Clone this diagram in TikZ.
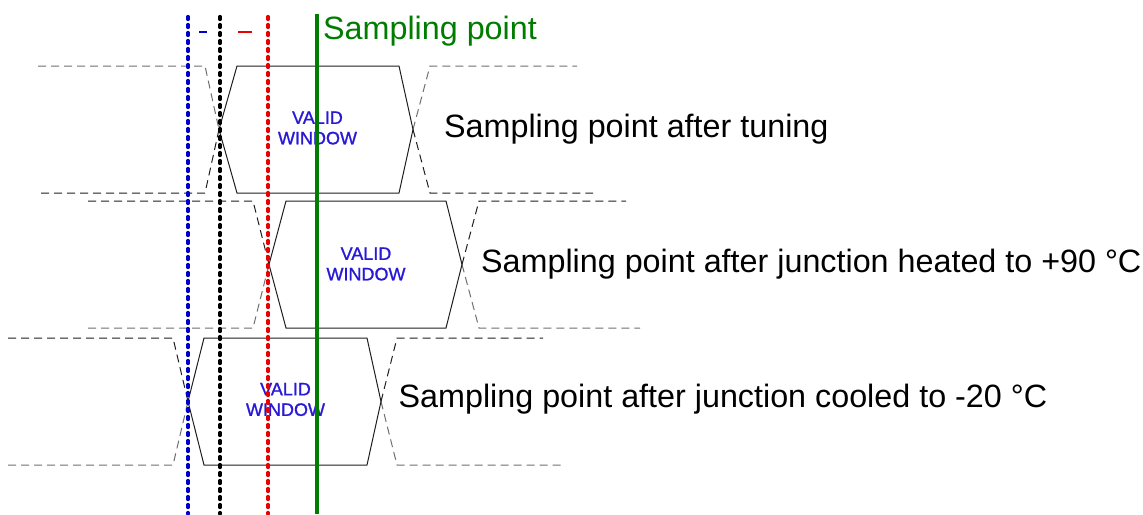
\documentclass[tikz,border=0pt]{standalone}
\usepackage{fontspec}
\setmainfont{Liberation Sans}
\newfontfamily\winfont[FakeBold=1.2]{Liberation Sans}
\definecolor{vblue}{RGB}{40,25,215}
\definecolor{sgreen}{RGB}{0,125,0}
\definecolor{dblue}{RGB}{0,0,205}
\definecolor{dred}{RGB}{235,0,0}
\definecolor{dark}{RGB}{30,30,30}
\definecolor{light}{RGB}{110,110,110}
\begin{document}
\begin{tikzpicture}[x=1pt,y=-1pt,
  wave/.style={line width=1pt,draw=dark,line join=miter},
  dashwave/.style={line width=1pt,dash pattern=on 8pt off 5pt},
  dotline/.style={line width=3.2pt,dash pattern=on 3pt off 5pt,line cap=round},
  lbl/.style={anchor=base west,inner sep=0pt,font=\fontsize{32.3}{38}\selectfont},
  win/.style={inner sep=0pt,align=center,text=vblue,font=\winfont\fontsize{18}{20.5}\selectfont}]
\useasboundingbox (0,0) rectangle (1143,514);
% eye rows: T/B/dL0top/dL0bot/dL1/Xl/sL/sR/Xr/dR1/topEnd/botEnd/topcol/botcol
\foreach \T/\B/\la/\lb/\lc/\xl/\sl/\sr/\xr/\rc/\te/\be/\tc/\bc in {
  66/193/38/41/205/219/237/399/413/430/577/593/light/dark,
  201/328/88/88/253/269/286/446/462/479/626/640/dark/light,
  338/465/8/8/173/188/204/367/381/397/543/561/dark/light}{
  \pgfmathsetmacro{\M}{(\T+\B)/2}
  \draw[dashwave,draw=\tc] (\la,\T) -- (\lc,\T) -- (\xl,\M);
  \draw[dashwave,draw=\bc] (\lb,\B) -- (\lc,\B) -- (\xl,\M);
  \draw[dashwave,draw=\tc] (\xr,\M) -- (\rc,\T) -- (\te,\T);
  \draw[dashwave,draw=\bc] (\xr,\M) -- (\rc,\B) -- (\be,\B);
  \draw[wave] (\sl,\T) -- (\sr,\T) -- (\xr,\M) -- (\sr,\B) -- (\sl,\B) -- (\xl,\M) -- cycle;
}
% valid window labels
\node[win] (w1) at (317.5,128) {VALID\\WINDOW};
\node[win] (w2) at (366,264) {VALID\\WINDOW};
\node[win] (w3) at (285.5,399.5) {VALID\\WINDOW};
% row labels
\node[lbl] (t1) at (444,137.3) {Sampling point after tuning};
\node[lbl] (t2) at (481,272.3) {Sampling point after junction heated to +90 °C};
\node[lbl] (t3) at (398.5,407.3) {Sampling point after junction cooled to -20 °C};
\node[lbl,text=sgreen] (sp) at (323,39.3) {Sampling point};
% vertical reference lines
\draw[dotline,dblue] (188,16.5) -- (188,514);
\draw[dotline,black] (220,16.5) -- (220,514);
\draw[dotline,dred] (268,16.5) -- (268,514);
\draw[line width=4.5pt,sgreen] (317,14) -- (317,514);
% small difference marks
\draw[line width=2.2pt,dblue] (199,32) -- (207,32);
\draw[line width=2.4pt,dred] (238,32) -- (252,32);
\end{tikzpicture}
\end{document}
